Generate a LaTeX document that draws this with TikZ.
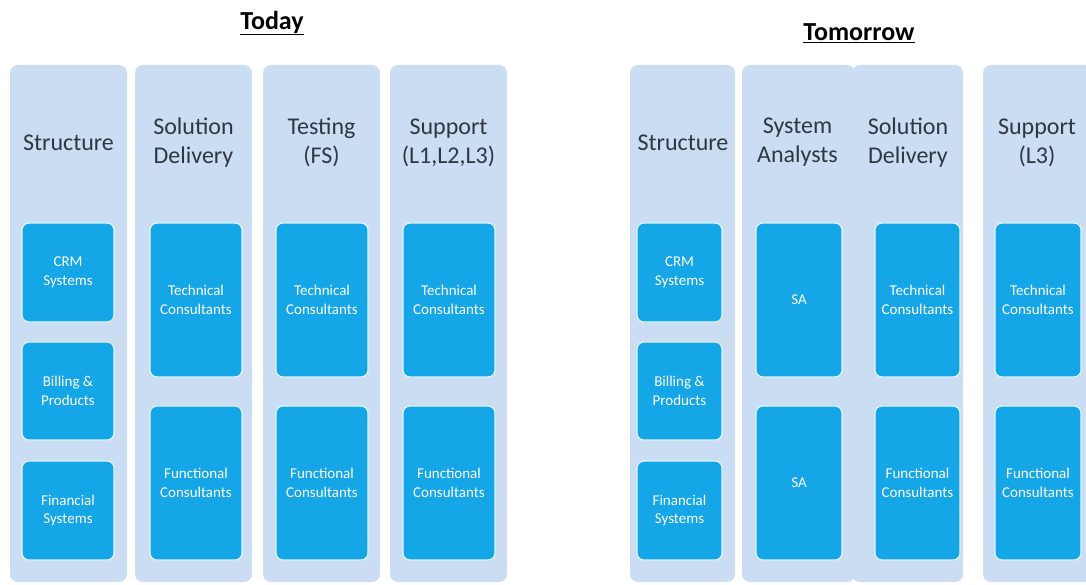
\documentclass[tikz,border=0pt]{standalone}
\usepackage{fontspec}
\setmainfont{Carlito}
\usetikzlibrary{fit}
\definecolor{lanefill}{HTML}{CADDF3}
\definecolor{cellfill}{HTML}{14A6E6}
\definecolor{cellrim}{HTML}{DDF5FF}
\definecolor{ink}{HTML}{2E3742}
\tikzset{
  lane/.style={fill=lanefill, rounded corners=8pt, inner sep=0pt},
  cell/.style={fill=cellfill, draw=cellrim, line width=1.2pt, rounded corners=7pt, inner sep=0pt},
  head/.style={text=ink, font=\fontsize{24}{29}\selectfont, align=center},
  celltext/.style={text=white, font=\fontsize{15}{18.5}\selectfont, align=center},
  title/.style={text=black, font=\bfseries\fontsize{26}{30}\selectfont}
}
\begin{document}
\begin{tikzpicture}[x=1pt,y=-1pt]
\useasboundingbox (0,0) rectangle (1086,585);
\clip (0,0) rectangle (1086,585);

% ---------- Today ----------
\node[title] (today) at (272,23) {\underline{Today}};

\node[lane, fit={(10,65) (127,582)}] (tS) {};
\node[lane, fit={(135,65) (252,582)}] (tD) {};
\node[lane, fit={(263,65) (380,582)}] (tT) {};
\node[lane, fit={(390,65) (507,582)}] (tP) {};

\node[head] (tSh) at (68.5,143) {Structure};
\node[head] (tDh) at (193.5,142.5) {Solution\\Delivery};
\node[head] (tTh) at (321.5,142.5) {Testing\\(FS)};
\node[head] (tPh) at (448.5,142.5) {Support\\(L1,L2,L3)};

\node[cell, fit={(22,223) (114,322)}] (tS1) {};
\node[cell, fit={(22,342) (114,440)}] (tS2) {};
\node[cell, fit={(22,461) (114,560)}] (tS3) {};
\node[celltext] at (tS1.center) {CRM\\Systems};
\node[celltext] at (tS2.center) {Billing \&\\Products};
\node[celltext] at (tS3.center) {Financial\\Systems};

\node[cell, fit={(150,223) (242,377)}] (tD1) {};
\node[cell, fit={(150,406) (242,560)}] (tD2) {};
\node[celltext] at (tD1.center) {Technical\\Consultants};
\node[celltext] at (tD2.center) {Functional\\Consultants};

\node[cell, fit={(276,223) (368,377)}] (tT1) {};
\node[cell, fit={(276,406) (368,560)}] (tT2) {};
\node[celltext] at (tT1.center) {Technical\\Consultants};
\node[celltext] at (tT2.center) {Functional\\Consultants};

\node[cell, fit={(403,223) (495,377)}] (tP1) {};
\node[cell, fit={(403,406) (495,560)}] (tP2) {};
\node[celltext] at (tP1.center) {Technical\\Consultants};
\node[celltext] at (tP2.center) {Functional\\Consultants};

% ---------- Tomorrow ----------
\node[title] (tomorrow) at (859,33) {\underline{Tomorrow}};

\node[lane, fit={(630,65) (735,582)}] (mS) {};
\node[lane, fit={(742,65) (855,582)}] (mA) {};
\node[lane, fit={(852,65) (963,582)}] (mD) {};
\node[lane, fit={(983,65) (1094,582)}] (mP) {};

\node[head] (mSh) at (683,143) {Structure};
\node[head] (mAh) at (797.5,142.5) {System\\Analysts};
\node[head] (mDh) at (908,142.5) {Solution\\Delivery};
\node[head] (mPh) at (1037,142.5) {Support\\(L3)};

\node[cell, fit={(637,223) (722,322)}] (mS1) {};
\node[cell, fit={(637,342) (722,440)}] (mS2) {};
\node[cell, fit={(637,461) (722,560)}] (mS3) {};
\node[celltext] at (mS1.center) {CRM\\Systems};
\node[celltext] at (mS2.center) {Billing \&\\Products};
\node[celltext] at (mS3.center) {Financial\\Systems};

\node[cell, fit={(756,223) (842,377)}] (mA1) {};
\node[cell, fit={(756,406) (842,560)}] (mA2) {};
\node[celltext] at (mA1.center) {SA};
\node[celltext] at (mA2.center) {SA};

\node[cell, fit={(875,223) (960,377)}] (mD1) {};
\node[cell, fit={(875,406) (960,560)}] (mD2) {};
\node[celltext] at (mD1.center) {Technical\\Consultants};
\node[celltext] at (mD2.center) {Functional\\Consultants};

\node[cell, fit={(995,223) (1081,377)}] (mP1) {};
\node[cell, fit={(995,406) (1081,560)}] (mP2) {};
\node[celltext] at (mP1.center) {Technical\\Consultants};
\node[celltext] at (mP2.center) {Functional\\Consultants};
\end{tikzpicture}
\end{document}
